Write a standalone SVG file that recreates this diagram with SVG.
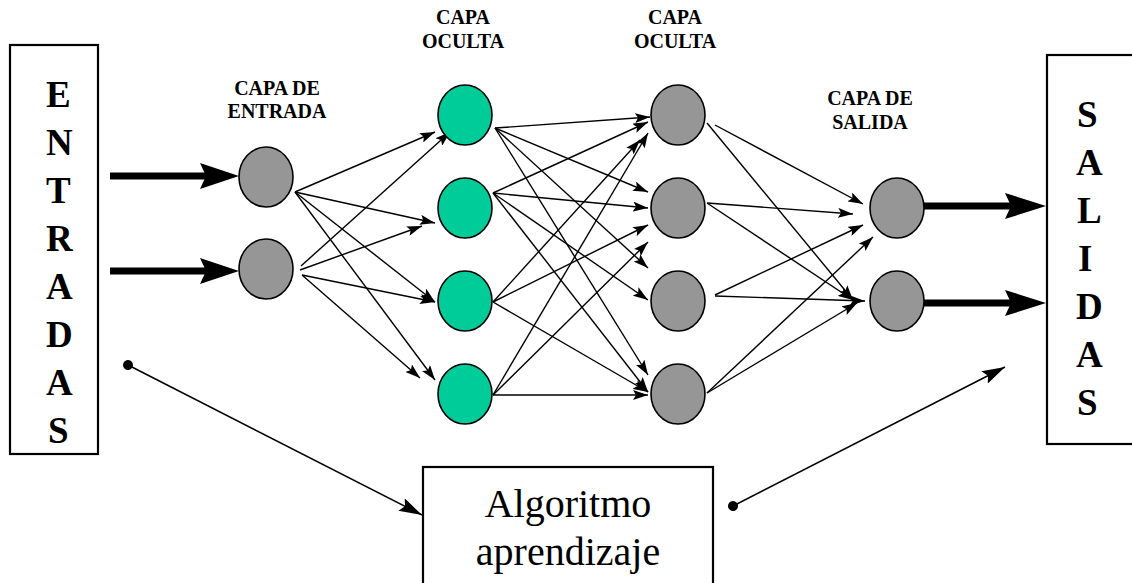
<svg xmlns="http://www.w3.org/2000/svg" width="1132" height="583" viewBox="0 0 1132 583">
<style>
.box{fill:#fff;stroke:#000;stroke-width:2.2}
.big{font-family:"Liberation Serif","Times New Roman",serif;font-weight:bold;font-size:37px;fill:#000}
.lbl{font-family:"Liberation Serif","Times New Roman",serif;font-weight:bold;font-size:20px;fill:#000;text-anchor:middle}
.alg{font-family:"Liberation Serif","Times New Roman",serif;font-size:40px;fill:#000;text-anchor:middle}
.gray{fill:#969696;stroke:#000;stroke-width:1.6}
.green{fill:#00CC99;stroke:#000;stroke-width:1.6}
.c{stroke:#000;stroke-width:1.4;fill:none;marker-end:url(#ah)}
.fb{stroke:#000;stroke-width:1.5;fill:none;marker-end:url(#ahb);marker-start:url(#dot)}
.thick{stroke:#000;stroke-width:7;fill:none}
.head{fill:#000}
</style>
<defs>
<marker id="ah" markerUnits="userSpaceOnUse" markerWidth="16" markerHeight="10" refX="15" refY="5" orient="auto">
<path d="M0,0 L15,5 L0,10 L3,5 z" fill="#000"/>
</marker>
<marker id="ahb" markerUnits="userSpaceOnUse" markerWidth="24" markerHeight="14" refX="23" refY="7" orient="auto">
<path d="M0,0 L23,7 L0,14 L4,7 z" fill="#000"/>
</marker>
<marker id="dot" markerUnits="userSpaceOnUse" markerWidth="12" markerHeight="12" refX="6" refY="6" orient="auto">
<circle cx="6" cy="6" r="5" fill="#000"/>
</marker>
</defs>
<rect width="1132" height="583" fill="#fff"/>

<g id="entradas">
<rect class="box" x="10" y="45" width="88" height="409"/>
<text class="big" x="46" y="107">E</text>
<text class="big" x="46" y="155">N</text>
<text class="big" x="46" y="203">T</text>
<text class="big" x="46" y="251">R</text>
<text class="big" x="46" y="299">A</text>
<text class="big" x="46" y="347">D</text>
<text class="big" x="46" y="395">A</text>
<text class="big" x="48" y="443">S</text>
</g>

<g id="salidas">
<rect class="box" x="1047" y="55" width="100" height="389"/>
<text class="big" x="1077" y="127">S</text>
<text class="big" x="1076" y="175">A</text>
<text class="big" x="1077" y="223">L</text>
<text class="big" x="1078" y="271">I</text>
<text class="big" x="1076" y="319">D</text>
<text class="big" x="1076" y="367">A</text>
<text class="big" x="1077" y="415">S</text>
</g>

<g id="algoritmo">
<rect class="box" x="423" y="467" width="290" height="130"/>
<text class="alg" x="568" y="517">Algoritmo</text>
<text class="alg" x="568" y="565">aprendizaje</text>
</g>

<g id="labels">
<text class="lbl" x="277" y="95">CAPA DE</text>
<text class="lbl" x="277" y="118">ENTRADA</text>
<text class="lbl" x="463" y="24">CAPA</text>
<text class="lbl" x="463" y="48">OCULTA</text>
<text class="lbl" x="675" y="24">CAPA</text>
<text class="lbl" x="675" y="48">OCULTA</text>
<text class="lbl" x="870" y="105">CAPA DE</text>
<text class="lbl" x="870" y="129">SALIDA</text>
</g>

<g id="connectors">
<line class="thick" x1="110" y1="176" x2="206" y2="176"/>
<path class="head" d="M200,163 L239,176 L200,189 L206,176 z"/>
<line class="thick" x1="110" y1="271" x2="206" y2="271"/>
<path class="head" d="M200,258 L239,271 L200,284 L206,271 z"/>
<line class="thick" x1="924" y1="206" x2="1011" y2="206"/>
<path class="head" d="M1005,193 L1046,206 L1005,219 L1011,206 z"/>
<line class="thick" x1="924" y1="303" x2="1011" y2="303"/>
<path class="head" d="M1005,290 L1046,303 L1005,316 L1011,303 z"/>

<line class="c" x1="295" y1="192" x2="435" y2="132"/>
<line class="c" x1="295" y1="192" x2="435" y2="223"/>
<line class="c" x1="295" y1="192" x2="435" y2="302"/>
<line class="c" x1="295" y1="192" x2="435" y2="380"/>
<line class="c" x1="301" y1="266" x2="450" y2="132"/>
<line class="c" x1="300" y1="270" x2="422" y2="226"/>
<line class="c" x1="302" y1="275" x2="435" y2="302"/>
<line class="c" x1="302" y1="275" x2="420" y2="378"/>

<line class="c" x1="495" y1="128" x2="650" y2="117"/>
<line class="c" x1="495" y1="128" x2="648" y2="192"/>
<line class="c" x1="495" y1="128" x2="648" y2="268"/>
<line class="c" x1="495" y1="128" x2="648" y2="375"/>
<line class="c" x1="493" y1="193" x2="648" y2="122"/>
<line class="c" x1="493" y1="193" x2="648" y2="208"/>
<line class="c" x1="493" y1="193" x2="648" y2="300"/>
<line class="c" x1="493" y1="193" x2="648" y2="392"/>
<line class="c" x1="493" y1="302" x2="640" y2="140"/>
<line class="c" x1="493" y1="302" x2="648" y2="225"/>
<line class="c" x1="493" y1="302" x2="648" y2="392"/>
<line class="c" x1="493" y1="395" x2="648" y2="133"/>
<line class="c" x1="493" y1="395" x2="648" y2="242"/>
<line class="c" x1="493" y1="395" x2="648" y2="395"/>

<line class="c" x1="715" y1="125" x2="863" y2="204"/>
<line class="c" x1="707" y1="123" x2="853" y2="300"/>
<line class="c" x1="707" y1="203" x2="853" y2="214"/>
<line class="c" x1="707" y1="203" x2="853" y2="300"/>
<line class="c" x1="715" y1="295" x2="863" y2="225"/>
<line class="c" x1="715" y1="296" x2="865" y2="301"/>
<line class="c" x1="707" y1="393" x2="873" y2="237"/>
<line class="c" x1="707" y1="393" x2="857" y2="303"/>

<line class="fb" x1="128" y1="365" x2="422" y2="515"/>
<line class="fb" x1="733" y1="506" x2="1005" y2="367"/>
</g>

<g id="input-layer">
<ellipse class="gray" cx="266" cy="177" rx="27" ry="30"/>
<ellipse class="gray" cx="266" cy="269" rx="27" ry="30"/>
</g>
<g id="hidden-layer-1">
<ellipse class="green" cx="465" cy="115" rx="27" ry="30"/>
<ellipse class="green" cx="465" cy="208" rx="27" ry="30"/>
<ellipse class="green" cx="465" cy="301" rx="27" ry="30"/>
<ellipse class="green" cx="465" cy="394" rx="27" ry="30"/>
</g>
<g id="hidden-layer-2">
<ellipse class="gray" cx="678" cy="115" rx="27" ry="30"/>
<ellipse class="gray" cx="678" cy="208" rx="27" ry="30"/>
<ellipse class="gray" cx="678" cy="301" rx="27" ry="30"/>
<ellipse class="gray" cx="678" cy="394" rx="27" ry="30"/>
</g>
<g id="output-layer">
<ellipse class="gray" cx="897" cy="208" rx="27" ry="30"/>
<ellipse class="gray" cx="897" cy="301" rx="27" ry="30"/>
</g>
</svg>
